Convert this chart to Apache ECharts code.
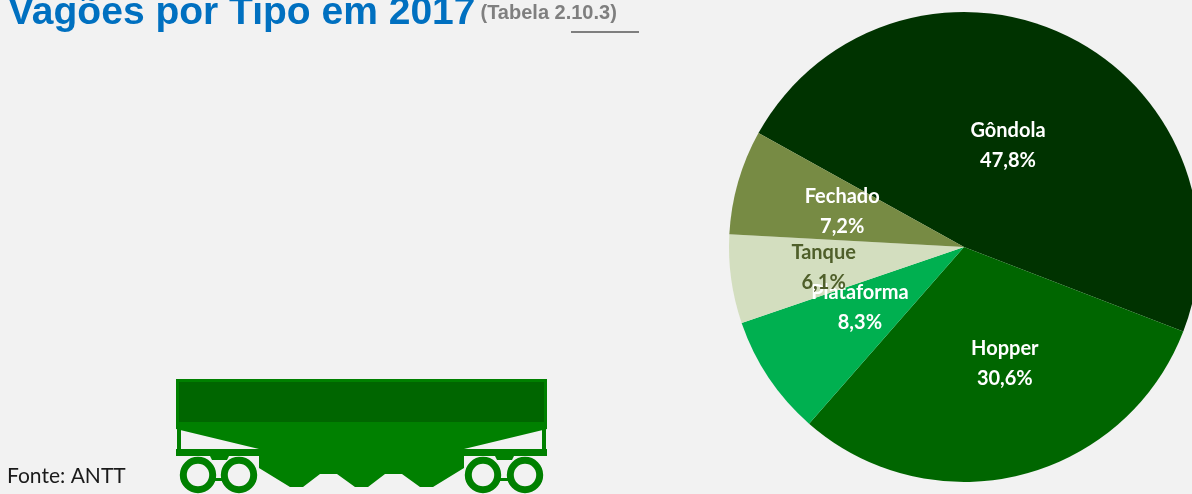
<!DOCTYPE html>
<html><head><meta charset="utf-8">
<style>html,body{margin:0;padding:0;background:#f2f2f2}#c{width:1192px;height:494px}</style>
<script src="https://cdn.jsdelivr.net/npm/echarts@6/dist/echarts.min.js"></script>
</head><body><div id="c"></div>
<script>
const categories = ['Gôndola','Hopper','Plataforma','Tanque','Fechado'];
const values = [47.8,30.6,8.3,6.1,7.2];
const colors = ['#003300','#006600','#00b050','#d3debf','#778b44'];
const labelColors = ['#ffffff','#ffffff','#ffffff','#4f5f2a','#ffffff'];
const labelShift = [[-7,8],[12,0],[-4,-7],[-21,4],[-6,-2]];
const titleText = 'Vagões por Tipo em 2017';
const sourceText = 'Fonte: ANTT';

const G = '#008000', D = '#006600';
const poly = (points, fill) => ({type:'polygon', shape:{points}, style:{fill}, silent:true});
const rect = (x,y,width,height,fill) => ({type:'rect', shape:{x,y,width,height}, style:{fill}, silent:true});
const wheel = (cx) => ({type:'circle', shape:{cx,cy:475,r:14.7}, style:{fill:'none',stroke:G,lineWidth:7}, silent:true});
const wagon = [
  rect(176,379,371,43,G),
  rect(179,382,365,40,D),
  poly([[176,422],[547,422],[547,429],[464,449],[464,468],[433,487],[420,487],[402,474],[385,474],[368,487],[355,487],[337,474],[320,474],[303,487],[290,487],[259,468],[259,449],[176,429]],G),
  rect(177,428,4,22,G),
  rect(542,428,4,22,G),
  rect(176,449,371,7,G),
  poly([[210,456],[229,456],[227,460],[212,460]],G),
  poly([[495,456],[514,456],[512,460],[497,460]],G),
  rect(214,478,10,3,G),
  rect(499,478,10,3,G),
  wheel(198),wheel(239),wheel(483),wheel(525)
];

const chart = echarts.init(document.getElementById('c'),null,{renderer:'canvas'});
chart.setOption({
  animation:false,
  backgroundColor:'#f2f2f2',
  title:{
    left:8, top:-6, padding:0,
    text:'{a|'+titleText+'} {b|(Tabela }{c|2.10.3}{b|)}',
    textStyle:{rich:{
      a:{fontFamily:'Liberation Sans',fontWeight:'bold',fontSize:39,color:'#0070c0'},
      b:{fontFamily:'Liberation Sans',fontWeight:'bold',fontSize:20,color:'#7f7f7f'},
      c:{fontFamily:'Liberation Sans',fontWeight:'bold',fontSize:20,color:'#7f7f7f'}
    }}
  },
  graphic:[
    ...wagon,
    {type:'rect',shape:{x:571,y:31,width:68,height:2},style:{fill:'#7f7f7f'},silent:true},
    {type:'text',x:7,y:466,style:{text:sourceText,fontFamily:'Lato',fontSize:21,fill:'#1a1a1a'},silent:true}
  ],
  series:[{
    type:'pie',
    center:[964,247],
    radius:[0,235],
    startAngle:151,
    clockwise:true,
    silent:true,
    labelLine:{show:false},
    label:{
      position:'inside',
      fontFamily:'Lato',
      fontWeight:'bold',
      fontSize:20,
      lineHeight:30,
      formatter:p=>p.name+'\n'+p.value.toFixed(1).replace('.',',')+'%'
    },
    labelLayout:p=>({dx:labelShift[p.dataIndex][0],dy:labelShift[p.dataIndex][1]}),
    data:categories.map((name,i)=>({name,value:values[i],itemStyle:{color:colors[i]},label:{color:labelColors[i]}}))
  }]
});
</script></body></html>
